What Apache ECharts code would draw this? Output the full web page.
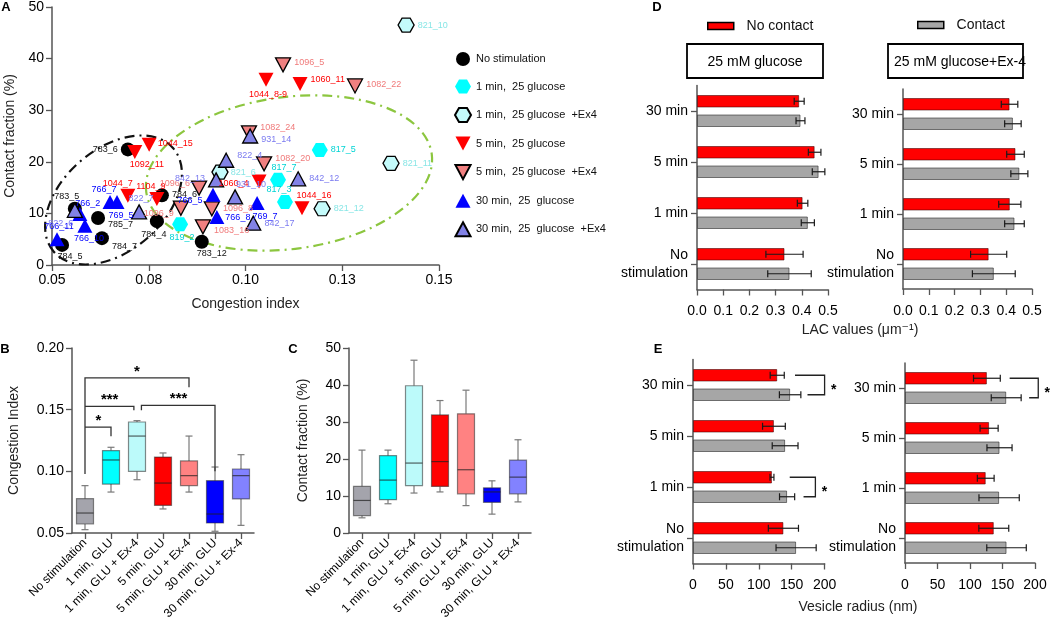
<!DOCTYPE html>
<html><head><meta charset="utf-8">
<script src="https://cdn.jsdelivr.net/npm/echarts/dist/echarts.min.js"></script>
<style>html,body{margin:0;padding:0;background:#fff}#c{width:1050px;height:644px}</style>
</head><body><div id="c"></div>
<script>
// ---------- Panel A data: [congestion index, contact fraction %, cell id]
const noStimPts = [[0.0696,22.4,'783_6'],[0.0559,10.9,'783_5'],[0.0619,9.1,'785_7'],[0.0629,5.2,'784_7'],[0.0526,3.9,'784_5'],[0.0784,13.5,'784_6'],[0.0771,8.5,'784_4'],[0.0887,4.5,'783_12']];
const glu1Pts = [[0.0831,7.9,'819_2'],[0.1084,16.5,'817_7'],[0.1102,12.2,'817_3'],[0.1192,22.3,'817_5']];
const glu1Ex4Pts = [[0.1415,46.5,'821_10'],[0.1376,19.7,'821_11'],[0.1198,10.9,'821_12'],[0.0934,18.0,'821_6']];
const glu5Pts = [[0.0714,21.9,'1092_11'],[0.0751,23.3,'1044_15'],[0.0696,13.4,'1044_7'],[0.0771,12.8,'1104_9'],[0.1035,16.2,'1060_4'],[0.1053,35.9,'1044_8-9'],[0.1141,35.1,'1060_11'],[0.1146,11.0,'1044_16']];
const glu5Ex4Pts = [[0.1097,38.8,'1096_5'],[0.1283,34.7,'1082_22'],[0.1009,25.6,'1082_24'],[0.1048,19.6,'1082_20'],[0.0880,14.9,'1096_6'],[0.0833,11.0,'1096_9'],[0.0913,10.9,'1096_8'],[0.0890,7.4,'1083_16']];
const glu30Pts = [[0.0513,5.0,'766_11'],[0.0585,7.6,'766_10'],[0.0572,9.9,'766_2'],[0.0650,12.2,'766_7'],[0.0668,12.2,'769_5'],[0.0916,13.6,'766_5'],[0.0926,9.3,'766_8'],[0.1030,12.0,'769_7']];
const glu30Ex4Pts = [[0.0559,10.6,'822_6'],[0.0725,10.3,'822_7'],[0.0924,16.5,'842_13'],[0.0950,20.3,'822_4'],[0.1012,25.0,'931_14'],[0.0973,13.2,'931_10'],[0.1136,16.7,'842_12'],[0.1020,8.1,'842_17']];
const tickLabelsA = ['0.05','0.08','0.10','0.13','0.15'];

// ---------- Panels B, C data: [min, Q1, median, Q3, max]
const boxCats = ['No stimulation','1 min, GLU','1 min, GLU + Ex-4','5 min, GLU','5 min, GLU + Ex-4','30 min, GLU','30 min, GLU + Ex-4'];
const boxB = [[0.0527,0.0573,0.0662,0.0778,0.0884],[0.0832,0.0897,0.1092,0.1168,0.1195],[0.0932,0.100,0.1286,0.140,0.1411],[0.0695,0.0724,0.0905,0.1116,0.1149],[0.0832,0.0884,0.0965,0.1084,0.1286],[0.0514,0.0581,0.0654,0.0924,0.1035],[0.0562,0.0776,0.0965,0.1019,0.1135]];
const boxC = [[4.1,4.7,8.8,12.6,22.4],[7.9,9.0,14.3,20.9,22.4],[10.8,12.8,18.9,39.8,46.7],[11.1,12.6,19.3,31.9,35.8],[7.4,10.6,17.1,32.2,38.6],[5.1,8.3,11.1,12.2,14.1],[8.4,10.6,15.1,19.7,25.2]];
// significance brackets for B: polyline in (category position, value)
const sigBPaths = [[[0,0.0978],[0,0.1757],[4,0.1757],[4,0.1681]],[[0,0.1527],[1.88,0.1527],[1.88,0.1495]],[[0,0.1359],[1,0.1359],[1,0.1284]],[[2.17,0.1495],[2.17,0.1535],[5,0.1535],[5,0.100]]];
const sigBStars = [['*',0.52,0.144],['***',0.95,0.1608],['*',2,0.1838],['***',3.6,0.1622]];

// ---------- Panels D, E data (bottom to top)
const barCats = ['No\nstimulation','1 min','5 min','30 min'];
const dGluNo = [0.334,0.403,0.449,0.390], dGluNoErr = [0.071,0.020,0.024,0.019];
const dGluCon = [0.353,0.423,0.464,0.395], dGluConErr = [0.083,0.025,0.024,0.017];
const dExNo = [0.332,0.414,0.436,0.413], dExNoErr = [0.070,0.043,0.034,0.032];
const dExCon = [0.352,0.432,0.451,0.426], dExConErr = [0.083,0.038,0.033,0.032];
const eGluNo = [137.4,120,123,128], eGluNoErr = [22.9,3,17.3,10.7];
const eGluCon = [156.7,143,140,147.6], eGluConErr = [30.5,11.5,19.6,16.3];
const eExNo = [136.6,124.2,129.4,126], eExNoErr = [23,12.9,13.9,20.6];
const eExCon = [156.2,144.8,145.4,155.7], eExConErr = [30.4,31,19.3,23];
// brackets for E: [red start, gray start, bracket end, category]
const sigEGlu = [[155,174,200,3],[147,168,186,1]];
const sigEEx = [[161,191,205,3]];

const FONT = '"Liberation Sans", Arial, Helvetica, "DejaVu Sans", sans-serif';
const HEX = 'path://M0,4.33 L2.5,0 L7.5,0 L10,4.33 L7.5,8.66 L2.5,8.66 Z';
const TRI_DOWN = 'path://M0,0 L10,0 L5,9.3 Z';
const TRI_UP = 'path://M5,0 L10,9.3 L0,9.3 Z';

const lblA = {
 '783_6':['left',0,0],'783_5':['top',-8,2],'785_7':['right',0,6],'784_7':['right',0,8],'784_5':['bottom',8,-3],
 '784_6':['right',0,-1],'784_4':['bottom',-3,-1],'783_12':['bottom',10,-3],
 '819_2':['bottom',2,-1],'817_7':['top',6,2],'817_3':['top',-6,2],'817_5':['right',0,0],
 '821_10':['right',0,0],'821_11':['right',0,0],'821_12':['right',0,0],'821_6':['right',-1,0],
 '1092_11':['bottom',12,-2],'1044_15':['right',-2,-1],'1044_7':['top',-10,2],'1104_9':['top',-6,2],
 '1060_4':['left',0,2],'1044_8-9':['bottom',2,0],'1060_11':['right',0,-4],'1044_16':['top',12,2],
 '1096_5':['right',0,-2],'1082_22':['right',0,-1],'1082_24':['right',0,-5],'1082_20':['right',0,-5],
 '1096_6':['left',2,-5],'1096_9':['left',4,5],'1096_8':['right',0,0],'1083_16':['right',0,4],
 '766_11':['top',2,2],'766_10':['bottom',4,-2],'766_2':['top',8,4],'766_7':['top',-6,2],'769_5':['bottom',4,-1],
 '766_5':['left',0,6],'766_8':['right',-2,1],'769_7':['bottom',8,-1],
 '822_6':['bottom',-14,-2],'822_7':['top',2,2],'842_13':['left',0,-1],'822_4':['right',0,-5],
 '931_14':['right',0,4],'931_10':['top',16,3],'842_12':['right',0,0],'842_17':['right',0,0]
};

const groupsA = [
 {name:'No stimulation', pts:noStimPts, symbol:'circle', size:14, fill:'#000', border:0, lc:'#111'},
 {name:'1 min,  25 glucose', pts:glu1Pts, symbol:HEX, size:[16,14], fill:'#00ffff', border:0, lc:'#00d4d4'},
 {name:'1 min,  25 glucose  +Ex4', pts:glu1Ex4Pts, symbol:HEX, size:[16,14], fill:'#c4fbfb', border:1.3, lc:'#88e6e6'},
 {name:'5 min,  25 glucose', pts:glu5Pts, symbol:TRI_DOWN, size:[15,14], fill:'#ff0000', border:0, lc:'#ff0000'},
 {name:'5 min,  25 glucose  +Ex4', pts:glu5Ex4Pts, symbol:TRI_DOWN, size:[15,14], fill:'#f08080', border:1.3, lc:'#f07a7a'},
 {name:'30 min,  25  glucose', pts:glu30Pts, symbol:TRI_UP, size:[15,14], fill:'#0000ff', border:0, lc:'#0000ff'},
 {name:'30 min,  25  glucose  +Ex4', pts:glu30Ex4Pts, symbol:TRI_UP, size:[15,14], fill:'#8282e6', border:1.3, lc:'#7b7bf0'}
];

const scatterSeries = groupsA.map(g => ({
  type:'scatter', name:g.name, xAxisIndex:0, yAxisIndex:0, symbol:g.symbol, symbolSize:g.size,
  itemStyle:{color:g.fill, borderColor:'#000', borderWidth:g.border, opacity:1},
  label:{show:true, formatter:'{b}', fontSize:9, color:g.lc, fontFamily:FONT, distance:3},
  data:g.pts.map(p => { const l = lblA[p[2]] || ['right',0,0]; return {name:p[2], value:[p[0],p[1]], label:{position:l[0], offset:[l[1],l[2]]}}; })
}));

const gridBoxes = [
 {left:52, top:7, width:387, height:258},
 {left:72, top:348, width:182, height:185},
 {left:349, top:348, width:182, height:185},
 {left:697, top:85.5, width:131, height:204},
 {left:903, top:89, width:129, height:200},
 {left:693, top:359.5, width:131.6, height:204},
 {left:905, top:363, width:130, height:200}
].map(g => Object.assign({containLabel:false, outerBoundsMode:'none'}, g));

const AX = '#555';
function valAxis(gi, min, max, interval, fmt, extra) {
  return Object.assign({gridIndex:gi, type:'value', min, max, interval,
    axisLine:{show:true, onZero:false, lineStyle:{color:AX, width:1.5}},
    axisTick:{show:true, length:6, lineStyle:{color:AX, width:1.3}},
    axisLabel:{show:true, formatter:fmt, fontSize:14, color:'#000', fontFamily:FONT, margin:8},
    splitLine:{show:false}}, extra || {});
}
function catAxis(gi, data, extra) {
  return Object.assign({gridIndex:gi, type:'category', data, boundaryGap:true,
    axisLine:{show:true, onZero:false, lineStyle:{color:AX, width:1.5}},
    axisTick:{show:true, alignWithLabel:true, length:6, lineStyle:{color:AX, width:1.3}},
    axisLabel:{show:true, interval:0, fontSize:14, color:'#000', fontFamily:FONT, margin:9, lineHeight:18},
    splitLine:{show:false}}, extra || {});
}
const nameStyle = {fontSize:14, color:'#222', fontFamily:FONT};

const xAxes = [
  valAxis(0, 0.05, 0.15, 0.025, v => tickLabelsA[Math.round((v-0.05)/0.025)], {name:'Congestion index', nameLocation:'middle', nameGap:32, nameTextStyle:nameStyle}),
  catAxis(1, boxCats, {axisLabel:{interval:0, rotate:45, fontSize:12, color:'#000', fontFamily:FONT, margin:8}}),
  catAxis(2, boxCats, {axisLabel:{interval:0, rotate:45, fontSize:12, color:'#000', fontFamily:FONT, margin:8}}),
  valAxis(3, 0, 0.5, 0.1, v => v.toFixed(1), {axisLabel:{formatter:v=>v.toFixed(1), fontSize:14, color:'#000', fontFamily:FONT, margin:15}}),
  valAxis(4, 0, 0.5, 0.1, v => v.toFixed(1), {axisLabel:{formatter:v=>v.toFixed(1), fontSize:14, color:'#000', fontFamily:FONT, margin:15}}),
  valAxis(5, 0, 200, 50, v => String(v), {axisLabel:{fontSize:14, color:'#000', fontFamily:FONT, margin:15}}),
  valAxis(6, 0, 200, 50, v => String(v), {axisLabel:{fontSize:14, color:'#000', fontFamily:FONT, margin:15}})
];
const yAxes = [
  valAxis(0, 0, 50, 10, v => String(v), {name:'Contact fraction (%)', nameLocation:'middle', nameGap:35, nameTextStyle:nameStyle}),
  valAxis(1, 0.05, 0.20, 0.05, v => v.toFixed(2), {name:'Congestion Index', nameLocation:'middle', nameGap:51, nameTextStyle:nameStyle}),
  valAxis(2, 0, 50, 10, v => String(v), {name:'Contact fraction (%)', nameLocation:'middle', nameGap:39, nameTextStyle:nameStyle}),
  catAxis(3, barCats), catAxis(4, barCats), catAxis(5, barCats), catAxis(6, barCats)
];

const boxColors = ['#a4a4ac','#00ffff','#bcfafa','#ff0000','#ff8282','#0000ff','#8282ff'];
function boxSeries(gi, rows) {
  return {type:'custom', xAxisIndex:gi, yAxisIndex:gi, silent:true, clip:false,
    data: rows.map((r,i) => [i].concat(r)), encode:{x:0, y:[1,2,3,4,5]},
    renderItem(params, api) {
      const i = api.value(0);
      const y = k => api.coord([i, api.value(k)])[1];
      const x = api.coord([i, api.value(3)])[0];
      const hw = 8.5, cw = 3.5;
      const ws = {stroke:'#7a7a7a', lineWidth:1.2};
      return {type:'group', children:[
        {type:'line', shape:{x1:x, y1:y(1), x2:x, y2:y(2)}, style:ws},
        {type:'line', shape:{x1:x, y1:y(4), x2:x, y2:y(5)}, style:ws},
        {type:'line', shape:{x1:x-cw, y1:y(1), x2:x+cw, y2:y(1)}, style:ws},
        {type:'line', shape:{x1:x-cw, y1:y(5), x2:x+cw, y2:y(5)}, style:ws},
        {type:'rect', shape:{x:x-hw, y:y(4), width:2*hw, height:y(2)-y(4)}, style:{fill:boxColors[i], stroke:'rgba(40,40,40,0.55)', lineWidth:1.2}},
        {type:'line', shape:{x1:x-hw, y1:y(3), x2:x+hw, y2:y(3)}, style:{stroke:'rgba(30,30,30,0.7)', lineWidth:1.2}}
      ]};
    }};
}
function sigBSeries() {
  return {type:'custom', xAxisIndex:1, yAxisIndex:1, silent:true, clip:false, data:[[0,0.1]], encode:{x:0,y:1},
    renderItem(params, api) {
      const band = api.size([1,0])[0];
      const pt = (c,v) => { const r = Math.round(c); const p = api.coord([r, v]); return [p[0] + (c-r)*band, p[1]]; };
      const ch = sigBPaths.map(path => ({type:'polyline', shape:{points:path.map(q => pt(q[0],q[1]))}, style:{stroke:'#333', lineWidth:1.3, fill:null}}));
      sigBStars.forEach(s => { const p = pt(s[1], s[2]); ch.push({type:'text', style:{text:s[0], x:p[0], y:p[1]+4, fill:'#000', font:'bold 15px '+FONT, align:'center', verticalAlign:'middle'}}); });
      return {type:'group', children:ch};
    }};
}
const OFF = 9.75;
function barPair(gi, no, con) {
  return [
    {type:'bar', name:'No contact', xAxisIndex:gi, yAxisIndex:gi, data:no, barWidth:12.5, barGap:'56%', itemStyle:{color:'#ff0000', borderColor:'rgba(60,0,0,0.55)', borderWidth:1}},
    {type:'bar', name:'Contact', xAxisIndex:gi, yAxisIndex:gi, data:con, barWidth:12.5, barGap:'56%', itemStyle:{color:'#a6a6a6', borderColor:'rgba(40,40,40,0.6)', borderWidth:1}}
  ];
}
function errSeries(gi, vals, errs, off) {
  return {type:'custom', xAxisIndex:gi, yAxisIndex:gi, z:5, silent:true, clip:false,
    data: vals.map((v,i) => [v, i, errs[i]]), encode:{x:0, y:1},
    renderItem(params, api) {
      const v = api.value(0), c = api.value(1), e = api.value(2);
      const y = api.coord([v, c])[1] + off;
      const lo = api.coord([v-e, c])[0], hi = api.coord([v+e, c])[0];
      const s = {stroke:'#1a1a1a', lineWidth:1.2};
      return {type:'group', children:[
        {type:'line', shape:{x1:lo, y1:y, x2:hi, y2:y}, style:s},
        {type:'line', shape:{x1:lo, y1:y-3.5, x2:lo, y2:y+3.5}, style:s},
        {type:'line', shape:{x1:hi, y1:y-3.5, x2:hi, y2:y+3.5}, style:s}]};
    }};
}
function sigESeries(gi, rows) {
  return {type:'custom', xAxisIndex:gi, yAxisIndex:gi, z:5, silent:true, clip:false,
    data: rows, encode:{x:0, y:3},
    renderItem(params, api) {
      const c = api.value(3);
      const yc = api.coord([0, c])[1];
      const a = api.coord([api.value(0), c])[0], b = api.coord([api.value(1), c])[0], e = api.coord([api.value(2), c])[0];
      return {type:'group', children:[
        {type:'polyline', shape:{points:[[a, yc-OFF],[e, yc-OFF],[e, yc+OFF],[b, yc+OFF]]}, style:{stroke:'#222', lineWidth:1.3, fill:null}},
        {type:'text', style:{text:'*', x:e+9, y:yc+5, fill:'#000', font:'bold 14px '+FONT, align:'center', verticalAlign:'middle'}}
      ]};
    }};
}

const series = [].concat(
  scatterSeries,
  [boxSeries(1, boxB), sigBSeries(), boxSeries(2, boxC)],
  barPair(3, dGluNo, dGluCon), [errSeries(3, dGluNo, dGluNoErr, -OFF), errSeries(3, dGluCon, dGluConErr, OFF)],
  barPair(4, dExNo, dExCon), [errSeries(4, dExNo, dExNoErr, -OFF), errSeries(4, dExCon, dExConErr, OFF)],
  barPair(5, eGluNo, eGluCon), [errSeries(5, eGluNo, eGluNoErr, -OFF), errSeries(5, eGluCon, eGluConErr, OFF), sigESeries(5, sigEGlu)],
  barPair(6, eExNo, eExCon), [errSeries(6, eExNo, eExNoErr, -OFF), errSeries(6, eExCon, eExConErr, OFF), sigESeries(6, sigEEx)]
);

const letter = (t, x, y) => ({type:'text', x, y, style:{text:t, font:'bold 13px '+FONT, fill:'#000', align:'center', verticalAlign:'middle'}});
const graphic = [
  {type:'ellipse', x:113.5, y:200, rotation:0.714, shape:{cx:0, cy:0, rx:79, ry:51}, z:1, silent:true,
   style:{fill:null, stroke:'#111', lineWidth:2.2, lineDash:[10,5,2,5]}},
  {type:'ellipse', x:289, y:173, rotation:0.131, shape:{cx:0, cy:0, rx:144, ry:76}, z:1, silent:true,
   style:{fill:null, stroke:'#8cc63f', lineWidth:2.2, lineDash:[10,5,2,5]}},
  letter('A', 6, 7), letter('B', 5, 349), letter('C', 293, 349), letter('D', 657, 7), letter('E', 658, 349),
  {type:'rect', shape:{x:687, y:44, width:136, height:34}, style:{fill:'#fff', stroke:'#000', lineWidth:1.8}},
  {type:'text', x:755, y:62, style:{text:'25 mM glucose', font:'14px '+FONT, fill:'#000', align:'center', verticalAlign:'middle'}},
  {type:'rect', shape:{x:888, y:44, width:135, height:34}, style:{fill:'#fff', stroke:'#000', lineWidth:1.8}},
  {type:'text', x:960, y:62, z:10, style:{text:'25 mM glucose+Ex-4', font:'14px '+FONT, fill:'#000', align:'center', verticalAlign:'middle'}},
  {type:'text', x:860, y:330, style:{text:'LAC values (μm⁻¹)', font:'14px '+FONT, fill:'#222', align:'center', verticalAlign:'middle'}},
  {type:'text', x:858, y:607, style:{text:'Vesicle radius (nm)', font:'14px '+FONT, fill:'#222', align:'center', verticalAlign:'middle'}}
];

const chart = echarts.init(document.getElementById('c'), null, {renderer:'canvas', width:1050, height:644});
chart.setOption({
  animation:false, backgroundColor:'#fff',
  textStyle:{fontFamily:FONT},
  grid:gridBoxes, xAxis:xAxes, yAxis:yAxes, series, graphic,
  legend:[
    {data:groupsA.map(g=>g.name), orient:'vertical', left:449, top:47, itemWidth:16, itemHeight:14, itemGap:13.6,
     textStyle:{fontSize:11, color:'#111', fontFamily:FONT}, selectedMode:false},
    {data:['No contact'], left:702, top:14, itemWidth:26, itemHeight:7, icon:'rect', formatter:'  {name}',
     itemStyle:{borderColor:'#000', borderWidth:1.5}, textStyle:{fontSize:14, color:'#111', fontFamily:FONT}, selectedMode:false},
    {data:['Contact'], left:912, top:13, itemWidth:26, itemHeight:7, icon:'rect', formatter:'  {name}',
     itemStyle:{borderColor:'#000', borderWidth:1.5}, textStyle:{fontSize:14, color:'#111', fontFamily:FONT}, selectedMode:false}
  ]
});
</script></body></html>
